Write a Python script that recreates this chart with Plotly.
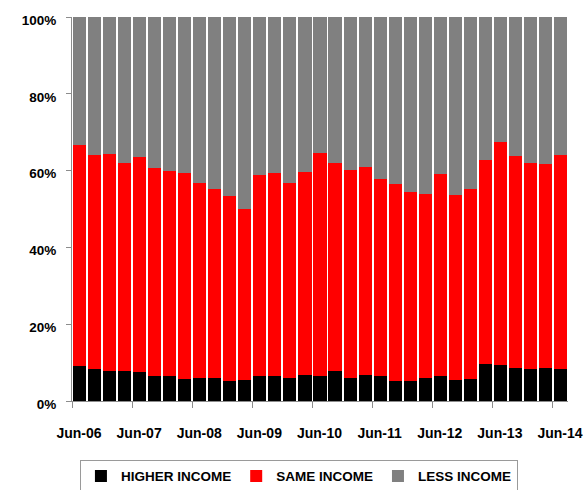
import plotly.graph_objects as go

# Quarterly survey, Jun-06 .. Jun-14 (33 quarters); shares in percent
quarters = ["Jun-06", "Sep-06", "Dec-06", "Mar-07", "Jun-07", "Sep-07", "Dec-07", "Mar-08",
            "Jun-08", "Sep-08", "Dec-08", "Mar-09", "Jun-09", "Sep-09", "Dec-09", "Mar-10",
            "Jun-10", "Sep-10", "Dec-10", "Mar-11", "Jun-11", "Sep-11", "Dec-11", "Mar-12",
            "Jun-12", "Sep-12", "Dec-12", "Mar-13", "Jun-13", "Sep-13", "Dec-13", "Mar-14",
            "Jun-14"]
higher_income = [9.0, 8.4, 7.7, 7.7, 7.5, 6.4, 6.4, 5.7, 6.1, 5.9, 5.3, 5.6, 6.4, 6.4, 6.1, 6.8,
                 6.4, 7.7, 5.9, 6.8, 6.4, 5.2, 5.2, 6.1, 6.4, 5.6, 5.7, 9.7, 9.4, 8.6, 8.4, 8.6,
                 8.4]
same_income = [57.7, 55.6, 56.6, 54.2, 56.1, 54.4, 53.6, 53.6, 50.7, 49.2, 48.1, 44.4, 52.5, 53.0,
               50.6, 52.8, 58.1, 54.4, 54.2, 54.2, 51.4, 51.4, 49.2, 47.9, 52.6, 48.1, 49.4, 53.1,
               58.1, 55.2, 53.5, 53.1, 55.6]
less_income = [33.3, 36.0, 35.7, 38.1, 36.4, 39.2, 40.0, 40.7, 43.2, 44.9, 46.6, 50.0, 41.1, 40.6,
               43.3, 40.4, 35.5, 37.9, 39.9, 39.0, 42.2, 43.4, 45.6, 46.0, 41.0, 46.3, 44.9, 37.2,
               32.5, 36.2, 38.1, 38.3, 36.0]

year_labels = ["Jun-06", "Jun-07", "Jun-08", "Jun-09", "Jun-10", "Jun-11", "Jun-12", "Jun-13",
               "Jun-14"]
y_ticks = [0, 20, 40, 60, 80, 100]

# bars sit in unit slots; year ticks fall on the left edge of each June bar
xpos = [i + 0.5 for i in range(len(quarters))]
year_pos = [quarters.index(lbl) for lbl in year_labels]

FONT = "Liberation Sans"
AXIS_GREY = "#8c8c8c"

fig = go.Figure()
for name, vals, col in [("HIGHER INCOME", higher_income, "#000000"),
                        ("SAME INCOME", same_income, "#FF0000"),
                        ("LESS INCOME", less_income, "#808080")]:
    fig.add_trace(go.Bar(x=xpos, y=vals, name=name, marker_color=col,
                         marker_line_width=0, width=0.87,
                         customdata=quarters,
                         hovertemplate="%{customdata}: %{y:.1f}%<extra>" + name + "</extra>"))

fig.update_layout(
    barmode="stack",
    width=586, height=490,
    margin=dict(l=72, r=18, t=17, b=89, autoexpand=False),
    paper_bgcolor="white", plot_bgcolor="white",
    font=dict(family=FONT, color="black"),
    legend=dict(orientation="h", x=0.016, xanchor="left", y=-0.153, yanchor="top",
                bordercolor="#9a9a9a", borderwidth=1, bgcolor="white",
                font=dict(family=FONT, size=13.5, weight="bold"),
                itemclick=False, traceorder="normal"),
    xaxis=dict(range=[0, len(quarters)], tickmode="array", tickvals=year_pos,
               ticktext=year_labels, showgrid=False, zeroline=False,
               showline=True, linecolor=AXIS_GREY, linewidth=1,
               ticks="outside", ticklen=6, tickcolor=AXIS_GREY,
               tickfont=dict(family=FONT, size=14, weight="bold"),
               ticklabelstandoff=13, ticklabelshift=7),
    yaxis=dict(range=[0, 100], tickmode="array", tickvals=y_ticks,
               ticktext=[f"{v}%" for v in y_ticks], showgrid=False, zeroline=False,
               showline=True, linecolor=AXIS_GREY, linewidth=1,
               ticks="outside", ticklen=5, tickcolor=AXIS_GREY,
               tickfont=dict(family=FONT, size=13.5, weight="bold"),
               ticklabelstandoff=7, ticklabelshift=3),
)

fig.write_html("out.html")
